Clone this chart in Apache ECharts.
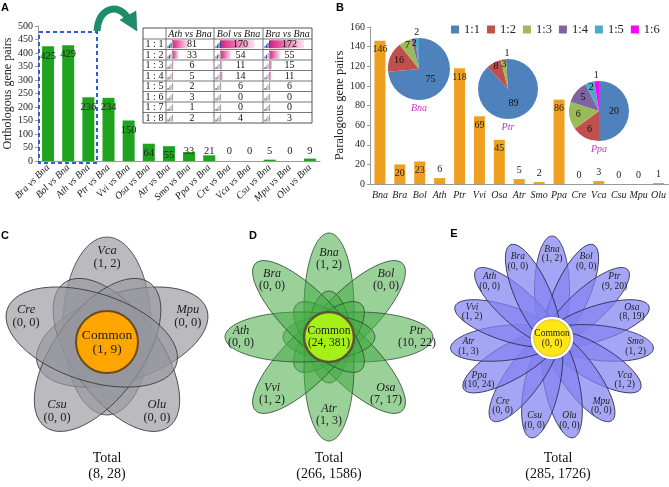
<!DOCTYPE html>
<html>
<head>
<meta charset="utf-8">
<script src="https://cdn.jsdelivr.net/npm/echarts@6/dist/echarts.min.js"></script>
<style>html,body{margin:0;padding:0;background:#fff}#c{width:669px;height:487px}</style>
</head>
<body>
<div id="c"></div>
<script>
// ---------- Panel A data ----------
const orthoCats = ['Bra vs Bna','Bol vs Bna','Ath vs Bna','Ptr vs Bna','Vvi vs Bna','Osa vs Bna','Atr vs Bna','Smo vs Bna','Ppa vs Bna','Cre vs Bna','Vca vs Bna','Csu vs Bna','Mpu vs Bna','Olu vs Bna'];
const orthoVals = [425,429,236,234,150,64,55,33,21,0,0,5,0,9];
const orthoTicks = [0,50,100,150,200,250,300,350,400,450,500];

// table inset
const tableRatios = ['1 : 1','1 : 2','1 : 3','1 : 4','1 : 5','1 : 6','1 : 7','1 : 8'];
const tableHeaders = ['Ath vs Bna','Bol vs Bna','Bra vs Bna'];
const athRatioCounts = [81,33,6,5,2,3,1,2];
const bolRatioCounts = [170,54,11,14,6,0,0,4];
const braRatioCounts = [172,55,15,11,6,0,0,3];

// ---------- Panel B data ----------
const paraCats = ['Bna','Bra','Bol','Ath','Ptr','Vvi','Osa','Atr','Smo','Ppa','Cre','Vca','Csu','Mpu','Olu'];
const paraVals = [146,20,23,6,118,69,45,5,2,86,0,3,0,0,1];
const paraTicks = [0,20,40,60,80,100,120,140,160];
const ratioLabels = ['1:1','1:2','1:3','1:4','1:5','1:6'];
const pieNames = ['Bna','Ptr','Ppa'];
const bnaPie = [75,16,7,2,2];
const ptrPie = [89,8,3,1];
const ppaPie = [20,6,6,5,2,1];

// ---------- Panels C, D, E data ----------
const vennCNames = ['Vca','Mpu','Olu','Csu','Cre'];
const vennCA = [1,0,0,0,0];
const vennCB = [2,0,0,0,0];
const vennCCommon = [1,9];
const vennCTotal = [8,28];

const vennDNames = ['Bna','Bol','Ptr','Osa','Atr','Vvi','Ath','Bra'];
const vennDA = [1,0,10,7,1,1,0,0];
const vennDB = [2,0,22,17,3,2,0,0];
const vennDCommon = [24,381];
const vennDTotal = [266,1586];

const vennENames = ['Bna','Bol','Ptr','Osa','Smo','Vca','Mpu','Olu','Csu','Cre','Ppa','Atr','Vvi','Ath','Bra'];
const vennEA = [1,0,9,8,1,1,0,0,0,0,10,1,1,0,0];
const vennEB = [2,0,20,19,2,2,0,0,0,0,24,3,2,0,0];
const vennECommon = [0,0];
const vennETotal = [285,1726];

// ---------- styling ----------
const SERIF = '"Liberation Serif", "Times New Roman", serif';
const pieColors = ['#4F81BD','#C0504D','#9BBB59','#8064A2','#4BACC6','#FF00FF'];

function txt(x, y, text, font, fill, z) {
  return {type:'text', x:x, y:y, z:z||20, silent:true,
    style:{text:String(text), font:font, fill:fill||'#111', align:'center', verticalAlign:'middle', textAlign:'center', textVerticalAlign:'middle'}};
}
function pair(a,b){ return '(' + a + ', ' + b + ')'; }

const graphics = [];

// panel letters
[['A',5,8],['B',340,8],['C',5,236],['D',253,236],['E',454,234]].forEach(p=>{
  graphics.push(txt(p[1],p[2],p[0],'bold 11px "Liberation Sans", Arial, sans-serif','#000'));
});

// dashed highlight box + curved arrow (panel A)
graphics.push({type:'rect', z:15, silent:true, shape:{x:39,y:32,width:58,height:131},
  style:{fill:null, stroke:'#2b5fd9', lineWidth:2, lineDash:[4,3]}});
graphics.push({type:'bezierCurve', z:15, silent:true,
  shape:{x1:97,y1:31,cpx1:99,cpy1:6,cpx2:119,cpy2:4,x2:127,y2:17},
  style:{fill:null, stroke:'#1f8c6c', lineWidth:7}});
graphics.push({type:'polygon', z:15, silent:true,
  shape:{points:[[120,20],[136,11],[137,31]]}, style:{fill:'#1f8c6c', stroke:'#17705a', lineWidth:0.5}});

// table inset
(function(){
  const x0 = 143, y0 = 28, colW = [23,48,49,49], headH = 11, rowH = 10.5;
  const cols = [athRatioCounts, bolRatioCounts, braRatioCounts];
  const maxV = Math.max.apply(null, cols.flat());
  const colX = [x0]; for (let i=0;i<colW.length;i++) colX.push(colX[i]+colW[i]);
  const totalW = colX[colX.length-1]-x0, totalH = headH + rowH*tableRatios.length;
  graphics.push({type:'rect', z:14, silent:true, shape:{x:x0,y:y0,width:totalW,height:totalH}, style:{fill:'#fff', stroke:'#555', lineWidth:1}});
  tableHeaders.forEach((h,j)=>{
    graphics.push(txt(colX[j+1]+colW[j+1]/2, y0+headH/2+0.5, h, 'italic 10px '+SERIF, '#111', 17));
  });
  tableRatios.forEach((r,i)=>{
    const yTop = y0 + headH + i*rowH;
    graphics.push(txt(x0+colW[0]/2, yTop+rowH/2+0.5, r, '10px '+SERIF, '#111', 17));
    cols.forEach((col,j)=>{
      const cx = colX[j+1], v = col[i];
      if (v > 0) {
        graphics.push({type:'rect', z:15, silent:true,
          shape:{x:cx+6, y:yTop+1.2, width:(colW[j+1]-14)*v/maxV, height:rowH-2.4},
          style:{fill:{type:'linear',x:0,y:0,x2:1,y2:0,colorStops:[{offset:0,color:'#d81b7c'},{offset:1,color:'#fbe2ef'}]}}});
      }
      const lvl = v>=150?4:(v>=75?3:(v>=30?2:1));
      for (let k=0;k<4;k++){
        const h = 2+k*1.6;
        graphics.push({type:'rect', z:16, silent:true,
          shape:{x:cx+1.5+k*1.5, y:yTop+rowH-1.5-h, width:1.1, height:h},
          style:{fill: k<lvl ? (lvl===1 ? '#8a2a8f' : '#2f4f9f') : '#a8a8a8'}});
      }
      graphics.push(txt(cx+colW[j+1]/2+2, yTop+rowH/2+0.5, v, '10px '+SERIF, '#111', 17));
    });
    graphics.push({type:'line', z:16, silent:true, shape:{x1:x0,y1:yTop,x2:x0+totalW,y2:yTop}, style:{stroke:'#555', lineWidth:0.8}});
  });
  for (let j=1;j<colX.length-1;j++){
    graphics.push({type:'line', z:16, silent:true, shape:{x1:colX[j],y1:y0,x2:colX[j],y2:y0+totalH}, style:{stroke:'#555', lineWidth:0.8}});
  }
})();

// pie name captions (panel B)
const pieGeom = [{cx:419, cy:69, r:31},{cx:508, cy:89, r:30},{cx:599, cy:111, r:30}];
pieNames.forEach((n,i)=>{
  graphics.push(txt(pieGeom[i].cx, pieGeom[i].cy + pieGeom[i].r + 8, n, 'italic 10px '+SERIF, '#c23bbf', 20));
});

// flower Venn diagrams
function flower(cfg){
  const n = cfg.names.length;
  for (let i=0;i<n;i++){
    const th = i*2*Math.PI/n;
    graphics.push({type:'ellipse', z:10, silent:true, x:cfg.cx, y:cfg.cy, rotation:-th,
      shape:{cx:0, cy:-cfg.d, rx:cfg.rx, ry:cfg.ry},
      style:{fill:cfg.fill, stroke:cfg.stroke, lineWidth:0.8}});
  }
  for (let i=0;i<n;i++){
    const th = i*2*Math.PI/n;
    const s = Math.sin(th);
    const dist = cfg.labelDist + cfg.labelExtra*Math.pow(s,4);
    const lx = cfg.cx + dist*Math.sin(th), ly = cfg.cy - dist*Math.cos(th);
    graphics.push(txt(lx, ly-cfg.fs*0.52, cfg.names[i], 'italic '+cfg.fs+'px '+SERIF, '#222', 13));
    graphics.push(txt(lx, ly+cfg.fs*0.52, pair(cfg.a[i], cfg.b[i]), cfg.fs+'px '+SERIF, '#222', 13));
  }
  graphics.push({type:'circle', z:12, silent:true, shape:{cx:cfg.cx, cy:cfg.cy, r:cfg.cr},
    style:{fill:cfg.cfill, stroke:cfg.cstroke, lineWidth:cfg.clw, shadowBlur:cfg.cshadow||0, shadowColor:'rgba(0,0,0,0.35)'}});
  graphics.push(txt(cfg.cx, cfg.cy-cfg.cfs*0.5, 'Common', cfg.cfs+'px '+SERIF, '#222', 13));
  graphics.push(txt(cfg.cx, cfg.cy+cfg.cfs*0.55, pair(cfg.common[0], cfg.common[1]), cfg.cfs+'px '+SERIF, '#222', 13));
  graphics.push(txt(cfg.cx+cfg.totalDx, 458, 'Total', '14px '+SERIF, '#111', 13));
  graphics.push(txt(cfg.cx+cfg.totalDx, 474, pair(cfg.total[0], cfg.total[1]), '14px '+SERIF, '#111', 13));
}
flower({cx:107, cy:342, names:vennCNames, a:vennCA, b:vennCB, common:vennCCommon, total:vennCTotal,
  rx:44, ry:89, d:16, fill:'rgba(150,150,158,0.66)', stroke:'#3a3a3a', labelDist:85, labelExtra:0, fs:12.5,
  cr:31, cfill:'#FFA500', cstroke:'#6b4c1e', clw:2, cfs:13.5, totalDx:0});
flower({cx:329, cy:337, names:vennDNames, a:vennDA, b:vennDB, common:vennDCommon, total:vennDTotal,
  rx:25, ry:75, d:29, fill:'rgba(70,172,70,0.55)', stroke:'#2f4f2f', labelDist:78, labelExtra:10, fs:12,
  cr:25, cfill:'#A6F01A', cstroke:'#5b5535', clw:2.5, cfs:11.5, totalDx:0});
flower({cx:552, cy:338, names:vennENames, a:vennEA, b:vennEB, common:vennECommon, total:vennETotal,
  rx:17.5, ry:55, d:47, fill:'rgba(130,130,241,0.72)', stroke:'#2a2a50', labelDist:84, labelExtra:0, fs:9.5,
  cr:20, cfill:'#FFE51A', cstroke:'#ffffff', clw:2.5, cfs:9.5, totalDx:6, cshadow:2});

// pie label placement
function pieLayout(vals, g){
  const total = vals.reduce((s,v)=>s+v,0);
  return function(params){
    const i = params.dataIndex;
    let cum = 0; for (let k=0;k<i;k++) cum += vals[k];
    const mid = (cum + vals[i]/2)/total*2*Math.PI;
    const frac = vals[i]/total;
    let f;
    if (frac >= 0.4) f = 0.5;
    else if (frac >= 0.1) f = 0.7;
    else if (i === vals.length-1 && frac < 0.04) f = 1.18;
    else f = 0.84;
    return {x: g.cx + g.r*f*Math.sin(mid), y: g.cy - g.r*f*Math.cos(mid), align:'center', verticalAlign:'middle', hideOverlap:false};
  };
}
function pieSeries(vals, g){
  return {type:'pie', center:[g.cx,g.cy], radius:g.r, startAngle:90, clockwise:true, z:5,
    avoidLabelOverlap:false, silent:true,
    data: vals.map((v,i)=>({name:ratioLabels[i], value:v, itemStyle:{color:pieColors[i]}})),
    label:{show:true, position:'inside', formatter:'{c}', fontSize:10, fontFamily:SERIF, color:'#111'},
    labelLine:{show:false}, labelLayout: pieLayout(vals, g),
    itemStyle:{borderWidth:0}, emphasis:{disabled:true}};
}

const axisLineStyle = {lineStyle:{color:'#9a9a9a', width:1}};
const option = {
  animation:false,
  color: pieColors,
  textStyle:{fontFamily:SERIF},
  grid:[{left:38, top:26, width:282, height:135}, {left:370, top:27, width:299, height:157}],
  legend:{data:ratioLabels, left:446, top:18, itemWidth:8, itemHeight:8, itemGap:7, icon:'rect', selectedMode:false,
    textStyle:{fontSize:12.5, fontFamily:SERIF, color:'#222'}},
  xAxis:[
    {type:'category', gridIndex:0, data:orthoCats, axisTick:{show:false}, axisLine:axisLineStyle,
      axisLabel:{interval:0, rotate:45, fontStyle:'italic', fontSize:10, fontFamily:SERIF, color:'#222', margin:5}},
    {type:'category', gridIndex:1, data:paraCats, axisTick:{show:false}, axisLine:axisLineStyle,
      axisLabel:{interval:0, fontStyle:'italic', fontSize:10, fontFamily:SERIF, color:'#222', margin:6}}
  ],
  yAxis:[
    {type:'value', gridIndex:0, min:orthoTicks[0], max:orthoTicks[orthoTicks.length-1], interval:orthoTicks[1]-orthoTicks[0],
      name:'Orthologous gene pairs', nameLocation:'middle', nameGap:24, nameTextStyle:{fontSize:12, fontFamily:SERIF, color:'#222'},
      splitLine:{show:false}, axisLine:{show:true, lineStyle:{color:'#9a9a9a'}}, axisTick:{show:true, length:3, lineStyle:{color:'#9a9a9a'}},
      axisLabel:{fontSize:10, fontFamily:SERIF, color:'#222', margin:5}},
    {type:'value', gridIndex:1, min:paraTicks[0], max:paraTicks[paraTicks.length-1], interval:paraTicks[1]-paraTicks[0],
      name:'Paralogous gene pairs', nameLocation:'middle', nameGap:23, nameTextStyle:{fontSize:12.5, fontFamily:SERIF, color:'#222'},
      splitLine:{show:false}, axisLine:{show:true, lineStyle:{color:'#9a9a9a'}}, axisTick:{show:true, length:3, lineStyle:{color:'#9a9a9a'}},
      axisLabel:{fontSize:10, fontFamily:SERIF, color:'#222', margin:5}}
  ],
  series:[
    {type:'bar', xAxisIndex:0, yAxisIndex:0, barWidth:12, silent:true,
      data: orthoVals.map(v=>({value:v, label:{position: v>=50 ? 'insideTop' : 'insideBottom'}})),
      itemStyle:{color:'#1fa31f'},
      label:{show:true, fontSize:10.5, fontFamily:SERIF, color:'#222', distance:4}},
    {type:'bar', xAxisIndex:1, yAxisIndex:1, barWidth:11, silent:true,
      data: paraVals.map(v=>({value:v, label:{position: v>=15 ? 'insideTop' : 'top'}})),
      itemStyle:{color:'#F0A020'},
      label:{show:true, fontSize:10, fontFamily:SERIF, color:'#222', distance:4}},
    pieSeries(bnaPie, pieGeom[0]),
    pieSeries(ptrPie, pieGeom[1]),
    pieSeries(ppaPie, pieGeom[2])
  ],
  graphic:{elements:graphics}
};
const chart = echarts.init(document.getElementById('c'), null, {renderer:'canvas'});
chart.setOption(option);
</script>
</body>
</html>
